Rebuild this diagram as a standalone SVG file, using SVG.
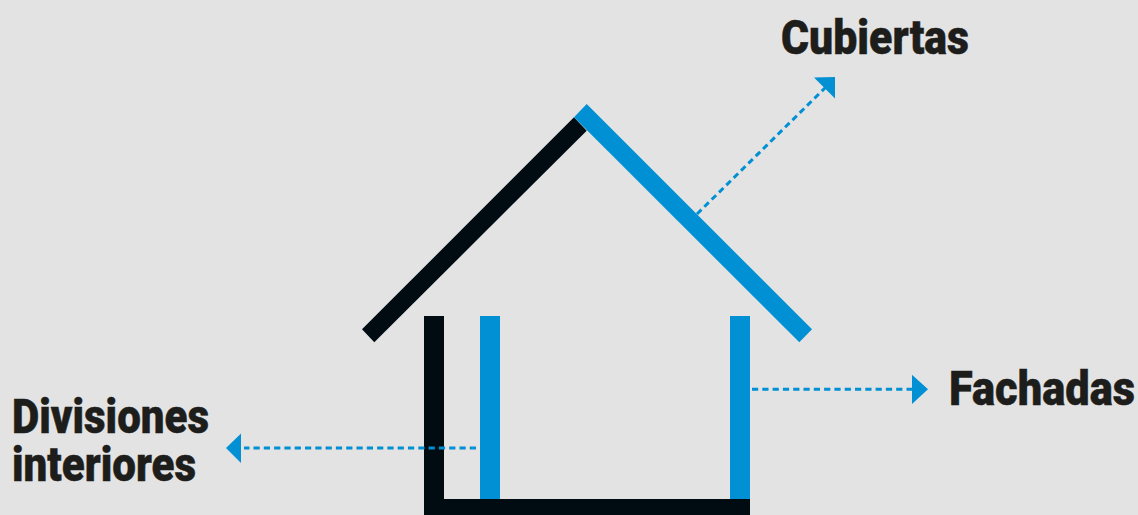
<svg xmlns="http://www.w3.org/2000/svg" width="1138" height="515" viewBox="0 0 1138 515">
<style>
.k{fill:#000c12}.b{fill:#0090d3}
.d{fill:none;stroke:#0090d3;stroke-width:3;stroke-dasharray:6.2 4.1}
text{font-family:"Roboto","Liberation Sans",sans-serif;font-weight:900;font-size:49px;fill:#1d1d1b;stroke:#1d1d1b;stroke-width:.5}
</style>
<rect id="background" width="1138" height="515" fill="#e3e3e3"/>
<g id="house">
<polygon class="k" points="362,329.3 574,117.3 586.7,130.7 374.3,342.3"/>
<polygon class="b" points="574,117.3 586.7,104 812,329.3 799.3,342.3"/>
<rect class="k" x="424" y="316" width="20" height="199"/>
<rect class="b" x="480" y="316" width="20" height="183"/>
<rect class="b" x="730" y="316" width="20" height="183"/>
<rect class="k" x="424" y="499" width="326" height="16"/>
</g>
<g id="connectors">
<path class="d" d="M697 214L826 87"/>
<polygon class="b" points="814,77.5 835,77 835,98.5"/>
<path class="d" d="M752 389.3H912"/>
<polygon class="b" points="912,374.7 928,389.3 912,404"/>
<path class="d" d="M476 448H244"/>
<polygon class="b" points="226,448 241,433.5 241,463"/>
</g>
<g id="cubiertas"><text transform="translate(781 53.5) scale(.875 1)" textLength="214.9" lengthAdjust="spacingAndGlyphs">Cubiertas</text></g>
<g id="fachadas"><text transform="translate(949 405) scale(.875 1)" textLength="212.6" lengthAdjust="spacingAndGlyphs">Fachadas</text></g>
<g id="divisiones"><text transform="translate(12 433) scale(.9 1)" textLength="218.9" lengthAdjust="spacingAndGlyphs">Divisiones</text><text transform="translate(12 480.5) scale(.9 1)" textLength="204.4" lengthAdjust="spacingAndGlyphs">interiores</text></g>
</svg>
